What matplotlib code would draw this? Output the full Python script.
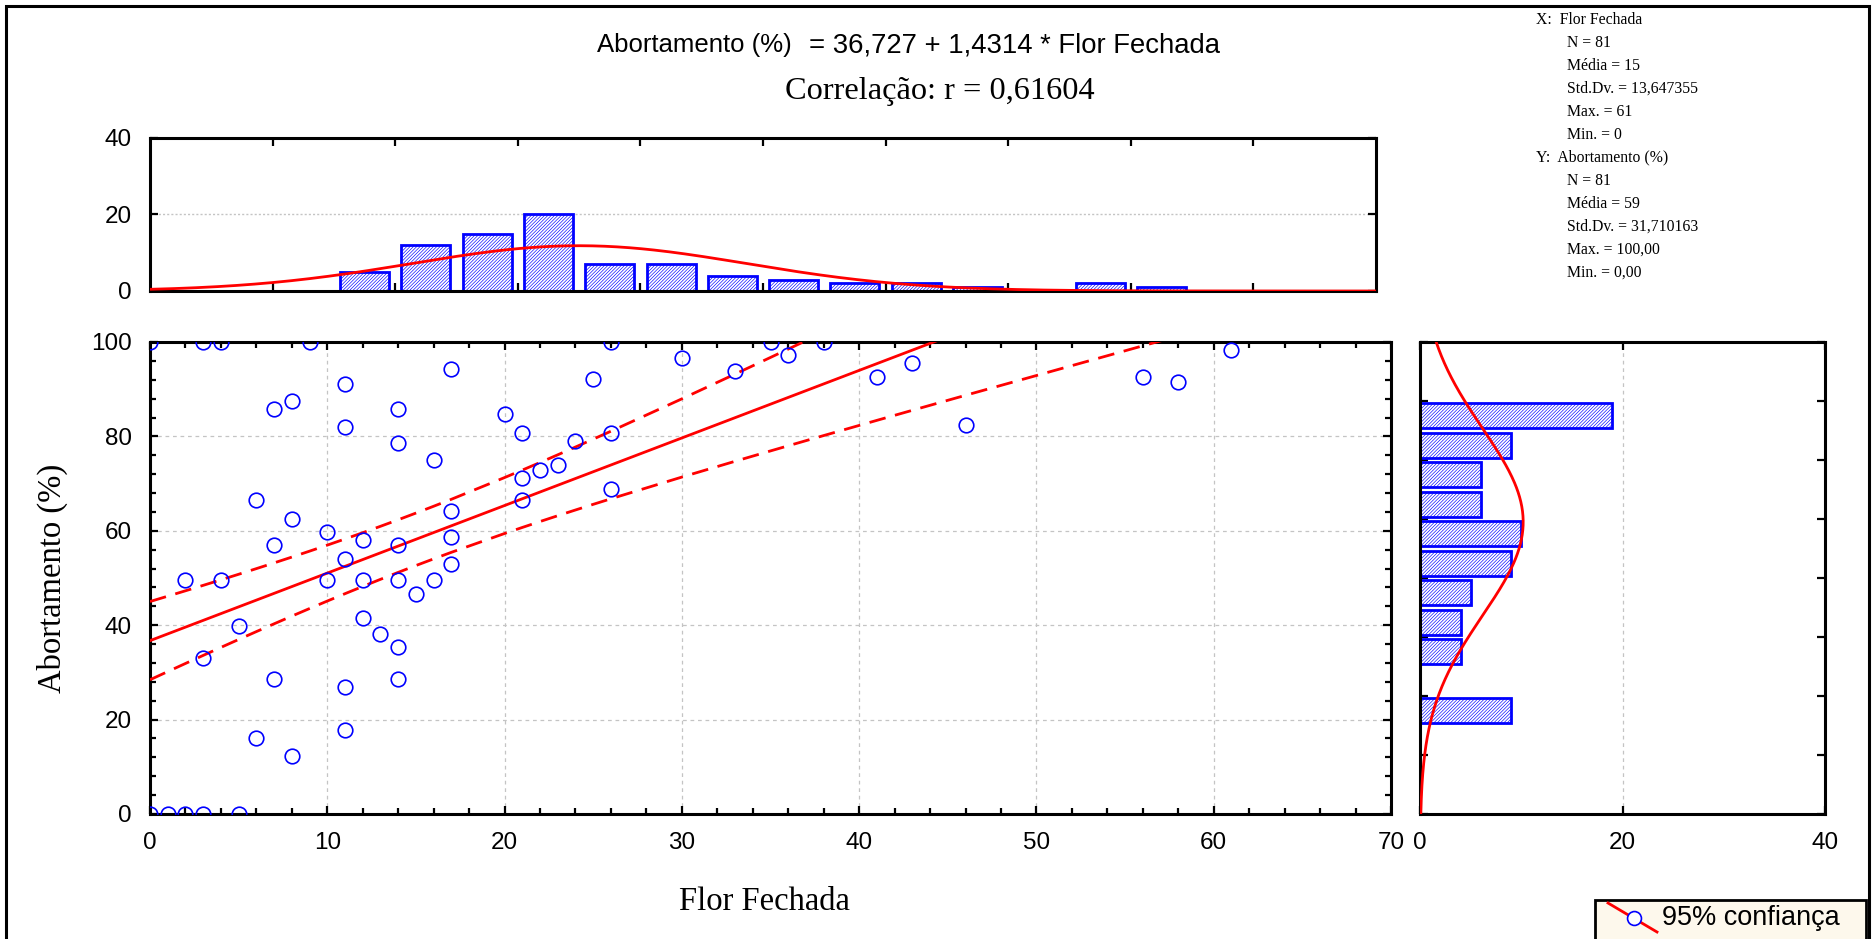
import numpy as np
import matplotlib
matplotlib.use("Agg")
import matplotlib.pyplot as plt
from matplotlib.patches import Rectangle
from matplotlib.lines import Line2D
from matplotlib.ticker import MultipleLocator

# pontos do diagrama de dispersão
flor = [0, 3, 4, 9, 17, 11, 8, 7, 14, 26, 30, 35, 36, 33, 25, 20, 11, 14, 21, 24,
        26, 16, 23, 22, 21, 26, 21, 6, 17, 8, 10, 12, 17, 14, 7, 11, 17, 2, 4, 10,
        12, 14, 16, 15, 12, 13, 5, 14, 3, 7, 14, 11, 11, 6, 8, 0, 1, 2, 3, 5,
        38, 41, 43, 46, 56, 58, 61]
abort = [100, 100, 100, 100, 94.3, 91.0, 87.5, 85.8, 85.8, 100, 96.6, 100, 97.2, 93.8, 92.1, 84.7, 81.9, 78.5, 80.7, 79.0,
         80.7, 75.1, 73.9, 72.8, 71.1, 68.8, 66.6, 66.6, 64.3, 62.6, 59.8, 58.1, 58.6, 56.9, 56.9, 54.1, 53.0, 49.6, 49.6, 49.6,
         49.6, 49.6, 49.6, 46.7, 41.6, 38.2, 39.9, 35.4, 33.1, 28.6, 28.6, 26.9, 17.8, 16.1, 12.2, 0, 0, 0, 0, 0,
         100, 92.6, 95.5, 82.4, 92.6, 91.5, 98.3]

# histograma de Flor Fechada (classes de largura 5, limite inferior)
x_bins = [-10, -5, 0, 5, 10, 15, 20, 25, 30, 35, 40, 45, 50, 55, 60, 65, 70, 75]
x_counts = [0, 5, 12, 15, 20, 7, 7, 4, 3, 2, 2, 1, 0, 2, 1, 0, 0, 0]

# histograma de Abortamento (classes de largura 10, limite inferior)
y_bins = [90, 80, 70, 60, 50, 40, 30, 20, 10, 0, -10]
y_counts = [19, 9, 6, 6, 10, 9, 5, 4, 4, 0, 9]

# estatísticas descritivas / regressão (texto da figura)
N = 81
X_MEAN, X_SD = 15, 13.647355
Y_MEAN, Y_SD = 59, 31.710163
R = 0.61604
A, B = 36.727, 1.4314
T95 = 1.990

stats_lines = [("X:  Flor Fechada", 0), ("N = 81", 1), ("Média = 15", 1), ("Std.Dv. = 13,647355", 1),
               ("Max. = 61", 1), ("Min. = 0", 1), ("Y:  Abortamento (%)", 0), ("N = 81", 1),
               ("Média = 59", 1), ("Std.Dv. = 31,710163", 1), ("Max. = 100,00", 1), ("Min. = 0,00", 1)]

SANS = ["Liberation Sans", "DejaVu Sans"]
SERIF = ["Liberation Serif", "DejaVu Serif"]
BLUE, RED = "#0000ff", "#ff0000"
W, H = 1876, 939
plt.rcParams["hatch.linewidth"] = 0.45


def box(l, t, r, b):
    return [l / W, 1 - b / H, (r - l) / W, (b - t) / H]


def style(ax, lw=2.2):
    for s in ax.spines.values():
        s.set_linewidth(lw)
    ax.tick_params(which="both", direction="in", width=1.6, labelsize=17.5, pad=13)
    ax.tick_params(which="major", length=6)
    ax.tick_params(which="minor", length=4)
    for lab in ax.get_xticklabels() + ax.get_yticklabels():
        lab.set_family(SANS)


fig = plt.figure(figsize=(W / 100, H / 100), dpi=100)
ax = fig.add_axes(box(150, 342, 1391, 814))
axt = fig.add_axes(box(150, 138, 1376, 291))
axr = fig.add_axes(box(1420, 342, 1825, 814))

# --- dispersão + reta + IC 95%
ax.plot(flor, abort, "o", mfc="none", mec=BLUE, ms=10.5, mew=1.2, zorder=4)
xs = np.linspace(0, 70, 300)
ax.plot(xs, A + B * xs, color=RED, lw=2, zorder=3)
s_res = Y_SD * np.sqrt((1 - R ** 2) * (N - 1) / (N - 2))
sxx = (N - 1) * X_SD ** 2
xb = np.unique(np.r_[0, flor, 70]).astype(float)
half = T95 * s_res * np.sqrt(1 / N + (xb - X_MEAN) ** 2 / sxx)
for sgn in (1, -1):
    ax.plot(xb, A + B * xb + sgn * half, color=RED, lw=2, ls=(0, (6, 3.5)), zorder=3)
ax.set_xlim(0, 70)
ax.set_ylim(0, 100)
ax.xaxis.set_major_locator(MultipleLocator(10))
ax.xaxis.set_minor_locator(MultipleLocator(2))
ax.yaxis.set_major_locator(MultipleLocator(20))
ax.yaxis.set_minor_locator(MultipleLocator(4))
ax.tick_params(which="both", top=True, right=True)
ax.grid(which="major", color="#c4c4c4", ls=(0, (3, 3)), lw=0.9)
style(ax)
fig.text(764 / W, 1 - 902 / H, "Flor Fechada", family=SERIF, fontsize=23.5,
         ha="center", va="center")
fig.text(52 / W, 1 - 578 / H, "Abortamento (%)", family=SERIF, fontsize=23.5,
         ha="center", va="center", rotation=90)

# --- histograma superior
hatch = "/" * 10
axt.bar(np.array(x_bins) + 2.5, x_counts, width=4.0, color="white", edgecolor=BLUE,
        hatch=hatch, lw=2, zorder=2)
xg = np.linspace(-20, 80, 400)
axt.plot(xg, N * 5 * np.exp(-0.5 * ((xg - X_MEAN) / X_SD) ** 2) / (X_SD * np.sqrt(2 * np.pi)),
         color=RED, lw=2, zorder=3)
axt.set_xlim(-20, 80)
axt.set_ylim(0, 40)
axt.set_xticks(range(-10, 80, 10))
axt.set_yticks([0, 20, 40])
axt.tick_params(top=True, right=True, labelbottom=False)
axt.yaxis.grid(True, color="#c4c4c4", ls=(0, (1.5, 1.5)), lw=1)
style(axt)

# --- histograma lateral
axr.barh(np.array(y_bins) + 5, y_counts, height=8.5, color="white", edgecolor=BLUE,
         hatch=hatch, lw=2, zorder=2)
yg = np.linspace(-40, 120, 400)
axr.plot(N * 10 * np.exp(-0.5 * ((yg - Y_MEAN) / Y_SD) ** 2) / (Y_SD * np.sqrt(2 * np.pi)), yg,
         color=RED, lw=2, zorder=3)
axr.set_xlim(0, 40)
axr.set_ylim(-40, 120)
axr.set_xticks([0, 20, 40])
axr.yaxis.set_major_locator(MultipleLocator(20))
axr.tick_params(top=True, right=True, labelleft=False)
axr.xaxis.grid(True, color="#c4c4c4", ls=(0, (3, 3)), lw=0.9)
style(axr)

# --- textos
fig.text(597 / W, 1 - 45 / H, "Abortamento (%)", family=SANS, fontsize=18.5,
         ha="left", va="center")
fig.text(809 / W, 1 - 45 / H, "= 36,727 + 1,4314 * Flor Fechada", family=SANS,
         fontsize=19.8, ha="left", va="center")
fig.text(785 / W, 1 - 92 / H, "Correlação: r = 0,61604", family=SERIF, fontsize=23.3,
         ha="left", va="center")
for i, (txt, ind) in enumerate(stats_lines):
    fig.text((1536 + 31 * ind) / W, 1 - (20 + 22.96 * i) / H, txt, family=SERIF,
             fontsize=11.3, ha="left", va="center")

# moldura externa
fig.add_artist(Rectangle((6 / W, -0.05), (1869 - 6) / W, 1 - 6 / H + 0.05,
                         transform=fig.transFigure, fill=False, ec="black", lw=2.2))

# legenda
fig.add_artist(Rectangle((1595 / W, -0.02), (1866 - 1595) / W, (939 - 900) / H + 0.02,
                         transform=fig.transFigure, fc="#fdf8ec", ec="black", lw=2))
fig.add_artist(Line2D([1608 / W, 1657 / W], [1 - 903 / H, 1 - 932 / H],
                      transform=fig.transFigure, color=RED, lw=2))
fig.add_artist(Line2D([1634 / W], [1 - 918 / H], transform=fig.transFigure, marker="o",
                      mfc="white", mec=BLUE, ms=10, mew=1.2))
fig.text(1662 / W, 1 - 918 / H, "95% confiança", family=SANS, fontsize=19.5,
         ha="left", va="center")

fig.savefig("out.png", dpi=100)
